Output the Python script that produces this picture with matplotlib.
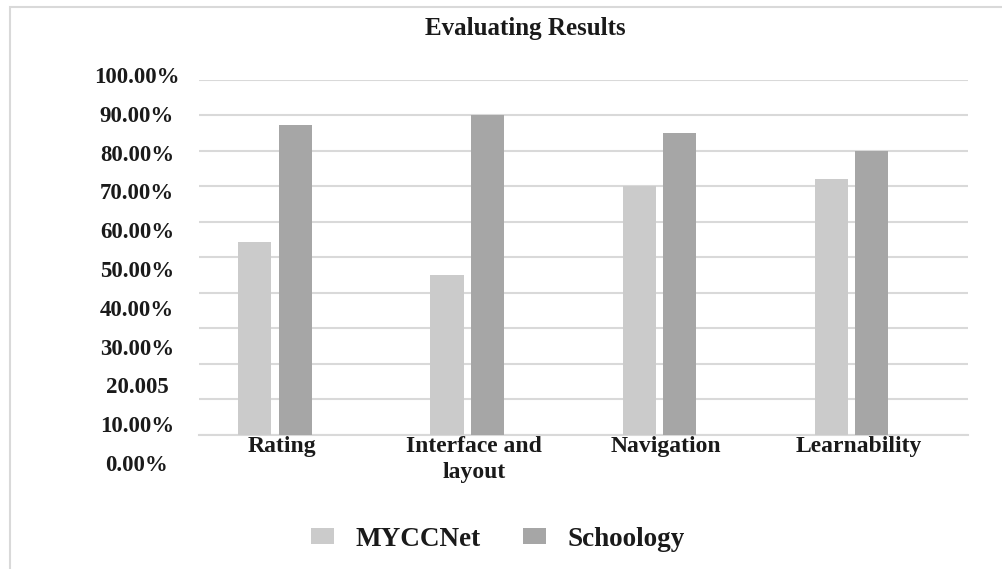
import matplotlib
matplotlib.use("Agg")
import matplotlib.pyplot as plt
import numpy as np
from matplotlib.patches import Rectangle

categories = ["Rating", "Interface and\nlayout", "Navigation", "Learnability"]
myccnet = [54.3, 45.0, 70.0, 72.1]
schoology = [87.3, 90.0, 85.0, 80.0]
y_values = [0, 10, 20, 30, 40, 50, 60, 70, 80, 90, 100]
y_labels = ["0.00%", "10.00%", "20.005", "30.00%", "40.00%", "50.00%",
            "60.00%", "70.00%", "80.00%", "90.00%", "100.00%"]

plt.rcParams["font.family"] = ["Liberation Serif", "DejaVu Serif"]
plt.rcParams["font.weight"] = "bold"

W, H = 1003, 569
fig = plt.figure(figsize=(W / 100, H / 100), dpi=100)


def fx(px):
    return px / W


def fy(px):
    return 1 - px / H


# outer chart border (only left and top edges visible)
fig.patches.append(Rectangle((fx(10), fy(600)), fx(1100), fy(7) - fy(600),
                             transform=fig.transFigure, fill=False,
                             edgecolor="#d9d9d9", linewidth=1.5))

ax = fig.add_axes([fx(199), fy(434.7), fx(968) - fx(199), fy(80) - fy(434.7)])
x = np.arange(len(categories))
width = 0.172
ax.bar(x - 0.21, myccnet, width, color="#cbcbcb", label="MYCCNet", zorder=3)
ax.bar(x, schoology, width, color="#a6a6a6", label="Schoology", zorder=3)

ax.set_xlim(-0.5, 3.5)
ax.set_ylim(0, 100)
ax.set_yticks(y_values)
ax.yaxis.grid(True, color="#d9d9d9", linewidth=1.5, zorder=0)
ax.tick_params(axis="y", left=False, labelleft=False)
ax.set_xticks(x - 0.07, categories)
ax.tick_params(axis="x", length=0, pad=1, labelsize=17)
for lab in ax.get_xticklabels():
    lab.set_fontweight("bold")
    lab.set_color("#1a1a1a")
    lab.set_linespacing(1.3)
for side in ["top", "right", "left"]:
    ax.spines[side].set_visible(False)
ax.spines["bottom"].set_color("#d9d9d9")
ax.spines["bottom"].set_linewidth(1.5)

# y labels sit on their own spacing, slightly wider than the gridlines
lab_ax = fig.add_axes([fx(137), fy(463), 0.0001, fy(75) - fy(463)])
lab_ax.set_ylim(0, 100)
lab_ax.set_yticks(y_values, y_labels)
lab_ax.tick_params(axis="y", length=0, pad=0, labelsize=16.5)
for lab in lab_ax.get_yticklabels():
    lab.set_horizontalalignment("center")
    lab.set_fontweight("bold")
    lab.set_color("#1a1a1a")
lab_ax.set_xticks([])
for s in lab_ax.spines.values():
    s.set_visible(False)
lab_ax.patch.set_visible(False)

fig.text(fx(525), fy(29), "Evaluating Results", ha="center", va="center",
         fontsize=18, fontweight="bold", color="#1a1a1a")

fig.legend(loc="center", bbox_to_anchor=(fx(498), fy(539)), ncol=2,
           frameon=False, prop={"size": 19.5, "weight": "bold"},
           handlelength=0.85, handleheight=0.5, handletextpad=0.8,
           columnspacing=1.55, labelcolor="#1a1a1a")

fig.savefig("out.png", dpi=100)
